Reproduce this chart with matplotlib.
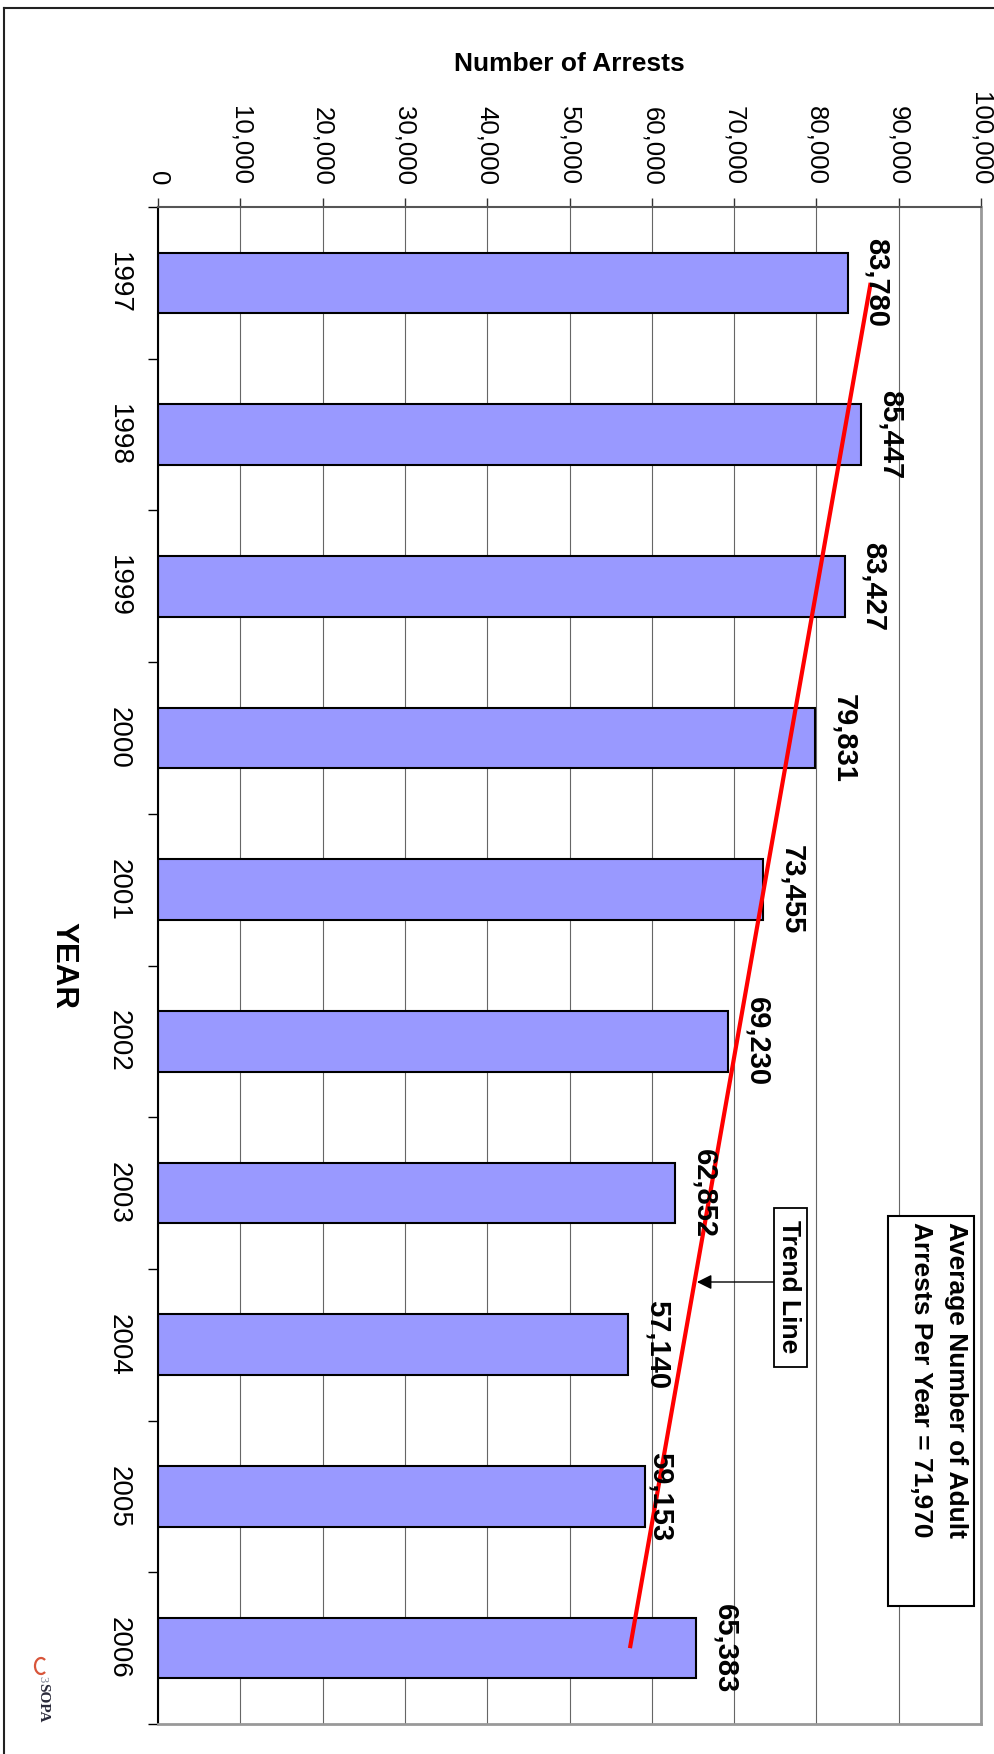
import numpy as np
import matplotlib.pyplot as plt
from matplotlib.lines import Line2D
from matplotlib.patches import Rectangle, Arc

# Dane z wykresu
lata = ['1997', '1998', '1999', '2000', '2001', '2002', '2003', '2004', '2005', '2006']
aresztowania = [83780, 85447, 83427, 79831, 73455, 69230, 62852, 57140, 59153, 65383]
wartosci_osi = [0, 10000, 20000, 30000, 40000, 50000, 60000, 70000, 80000, 90000, 100000]
etykiety_osi = ['0', '10,000', '20,000', '30,000', '40,000', '50,000',
                '60,000', '70,000', '80,000', '90,000', '100,000']
tytul_osi = 'Number of Arrests'
tytul_kategorii = 'YEAR'
srednia_linie = ['Average Number of Adult', 'Arrests Per Year = 71,970']
opis_trendu = 'Trend Line'

# Odsunięcie podpisów od końca słupka (w punktach) - 2005 przesunięty ręcznie
odsuniecia = [11, 11, 11, 11, 11, 11, 11, 11, 1, 11]

plt.rcParams['font.family'] = ['Liberation Sans', 'DejaVu Sans']

# Rozmiar obrazka w pikselach
W, H = 995, 1754


# Piksele (od lewego górnego rogu) -> ułamek figury
def fx(x):
    return x / W


def fy(y):
    return 1 - y / H


fig = plt.figure(figsize=(W / 100, H / 100), dpi=100)
ax = fig.add_axes([fx(158), fy(1724), (981 - 158) / W, (1724 - 207) / H])

pozycje = np.arange(len(lata))

# Słupki
ax.barh(pozycje, aresztowania, height=0.4, color='#9999FF', edgecolor='black',
        linewidth=1.5, zorder=2)
ax.set_xlim(0, 100000)
ax.set_ylim(len(lata) - 0.5, -0.5)

# Oś wartości u góry
ax.xaxis.tick_top()
ax.set_xticks(wartosci_osi)
ax.set_xticklabels(etykiety_osi, rotation=-90, fontsize=18.5)
ax.tick_params(axis='x', length=6.5, width=1, pad=9, color='#333333')
ax.grid(axis='x', color='#666666', linewidth=0.8)
ax.set_axisbelow(True)

# Oś kategorii - kreski na granicach, podpisy w środku
ax.set_yticks(np.arange(len(lata) + 1) - 0.5)
ax.set_yticklabels([])
ax.set_yticks(pozycje, lata, minor=True)
ax.tick_params(axis='y', which='major', length=7, width=1, color='black')
ax.tick_params(axis='y', which='minor', length=0, pad=19, labelsize=20)
for lbl in ax.get_yticklabels(minor=True):
    lbl.set_rotation(-90)
    lbl.set_va('center')
    lbl.set_ha('right')

ax.spines['left'].set(color='black', linewidth=1.5)
ax.spines['top'].set(color='#555555', linewidth=1.5)
ax.spines['right'].set(color='#999999', linewidth=2)
ax.spines['bottom'].set(color='#999999', linewidth=2)

# Wartości przy słupkach
for i, v in enumerate(aresztowania):
    ax.annotate(f'{v:,}', (v, i), xytext=(odsuniecia[i], 0), textcoords='offset points',
                rotation=-90, ha='left', va='center', fontsize=21,
                fontweight='bold', zorder=5)

# Linia trendu (liniowa, jak w Excelu)
wsp = np.polyfit(pozycje, aresztowania, 1)
konce = pozycje[[0, -1]]
ax.plot(np.polyval(wsp, konce), konce, color='red', linewidth=3, zorder=4,
        solid_capstyle='butt')

# Ramka "Trend Line" ze strzałką
fig.add_artist(Rectangle((fx(774), fy(1367)), (807 - 774) / W, (1367 - 1208) / H,
                         transform=fig.transFigure, fc='white', ec='black',
                         lw=1.3, zorder=3))
fig.text(fx(789), fy(1287), opis_trendu, rotation=-90, ha='center', va='center',
         fontsize=19, fontweight='bold', zorder=4)
y_strzalki = (1282 - 207) / 151.7 - 0.5
ax.annotate('', xy=(np.polyval(wsp, y_strzalki) + 300, y_strzalki),
            xytext=(fx(774), fy(1282)), textcoords='figure fraction',
            arrowprops=dict(arrowstyle='-|>', color='black', lw=1,
                            mutation_scale=22, shrinkA=0, shrinkB=0))

# Ramka ze średnią
fig.add_artist(Rectangle((fx(888), fy(1606)), (974 - 888) / W, (1606 - 1216) / H,
                         transform=fig.transFigure, fc='white', ec='black',
                         lw=1.5, zorder=3))
fig.text(fx(956), fy(1222), srednia_linie[0], rotation=-90, ha='center', va='top',
         fontsize=19, fontweight='bold', zorder=4)
fig.text(fx(921), fy(1222), srednia_linie[1], rotation=-90, ha='center', va='top',
         fontsize=19, fontweight='bold', zorder=4)

# Tytuły osi
fig.text(fx(569), fy(64), tytul_osi, ha='center', va='center', fontsize=19,
         fontweight='bold')
fig.text(fx(63), fy(965), tytul_kategorii, rotation=-90, ha='center', va='center',
         fontsize=22.5, fontweight='bold')

# Logo w rogu
fig.text(fx(43), fy(1703), 'SOPA', rotation=-90, ha='center', va='center',
         family='Liberation Serif', fontweight='bold', fontsize=11,
         color='#2a2a3a')
fig.add_artist(Arc((fx(41), fy(1666)), 12 / W, 16 / H, theta1=40, theta2=320,
                   transform=fig.transFigure, color='#d8553a', lw=1.6))
fig.text(fx(42), fy(1679), '3', rotation=-90, ha='center', va='center',
         family='Liberation Serif', fontsize=9, color='#7a8090')

# Ramka całego obrazka (lewa i górna krawędź)
fig.add_artist(Line2D([fx(4), fx(4)], [fy(8), 0], color='#222222', lw=1.5,
                      transform=fig.transFigure))
fig.add_artist(Line2D([fx(4), 1], [fy(8), fy(8)], color='#222222', lw=1.5,
                      transform=fig.transFigure))

fig.savefig('out.png', dpi=100)
